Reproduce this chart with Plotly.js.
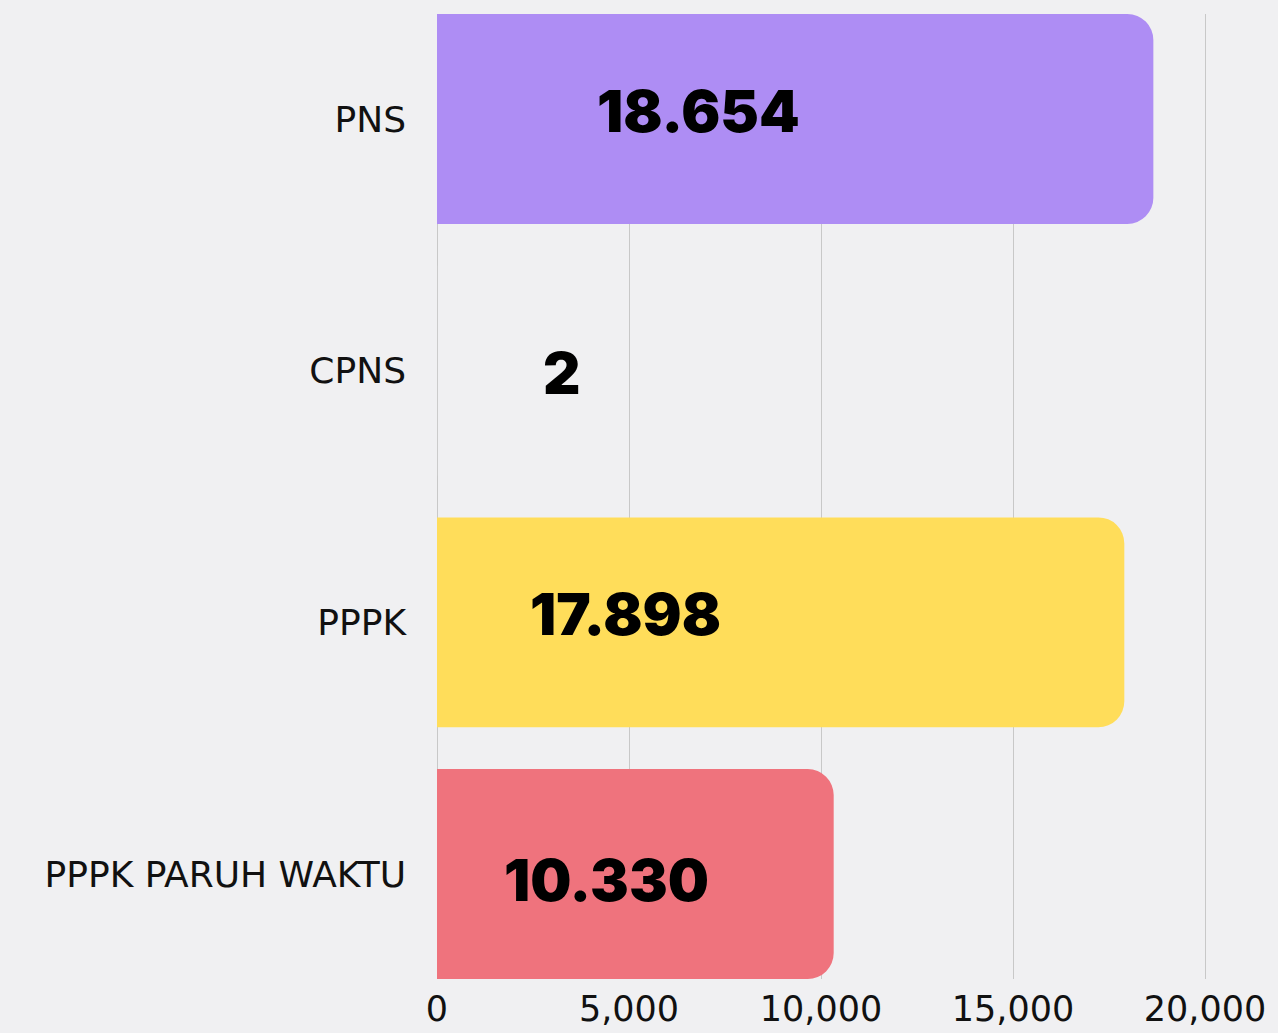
<!DOCTYPE html>
<html>
<head>
<meta charset="utf-8">
<script src="https://cdn.plot.ly/plotly-3.0.1.min.js"></script>
<style>
html,body{margin:0;padding:0;background:#F0F0F2;}
#chart{width:1278px;height:1033px;}
</style>
</head>
<body>
<div id="chart"></div>
<script>
// Data
const categories = ["PNS", "CPNS", "PPPK", "PPPK PARUH WAKTU"];
const values = [18654, 2, 17898, 10330];
const barColors = ["#AE8DF4", "#F0F0F2", "#FFDD5A", "#EF737D"];
const xTickVals = [0, 5000, 10000, 15000, 20000];
const xTickText = ["0", "5,000", "10,000", "15,000", "20,000"];

function fmtID(v) {
  return String(v).replace(/\B(?=(\d{3})+(?!\d))/g, ".");
}

// label placement (layout only)
const labelX = [6797, 3255, 4896, 4401];
const labelDy = [-8, 2, -8, 6];

const trace = {
  type: "bar",
  orientation: "h",
  y: categories,
  x: values,
  marker: { color: barColors, line: { width: 0 } },
  hoverinfo: "skip"
};

const annotations = categories.map((c, i) => ({
  x: labelX[i], y: c, xref: "x", yref: "y",
  text: fmtID(values[i]),
  showarrow: false,
  xanchor: "center", yanchor: "middle",
  yshift: -labelDy[i],
  font: { family: "Inter, 'Noto Sans', sans-serif", size: 58, color: "#000000", weight: 900 }
}));

const layout = {
  width: 1278, height: 1033,
  paper_bgcolor: "#F0F0F2",
  plot_bgcolor: "#F0F0F2",
  margin: { l: 437, r: 0, t: 14, b: 54, pad: 0 },
  bargap: 0.166,
  barcornerradius: 26,
  showlegend: false,
  xaxis: {
    range: [0, 21900],
    tickvals: xTickVals,
    ticktext: xTickText,
    showgrid: true,
    gridcolor: "#C8C8C8",
    gridwidth: 1,
    zeroline: true,
    zerolinecolor: "#C8C8C8",
    zerolinewidth: 1,
    showline: false,
    ticks: "",
    ticklabelstandoff: 6,
    tickfont: { family: "'DejaVu Sans', sans-serif", size: 35, color: "#111111" },
    fixedrange: true
  },
  yaxis: {
    type: "category",
    categoryarray: categories,
    range: [3.417, -0.417],
    showgrid: false,
    zeroline: false,
    showline: false,
    ticks: "",
    ticklabelstandoff: 30,
    tickfont: { family: "'DejaVu Sans', sans-serif", size: 36, color: "#111111" },
    fixedrange: true
  },
  annotations: annotations
};

Plotly.newPlot("chart", [trace], layout, { displayModeBar: false, staticPlot: true });
</script>
</body>
</html>
